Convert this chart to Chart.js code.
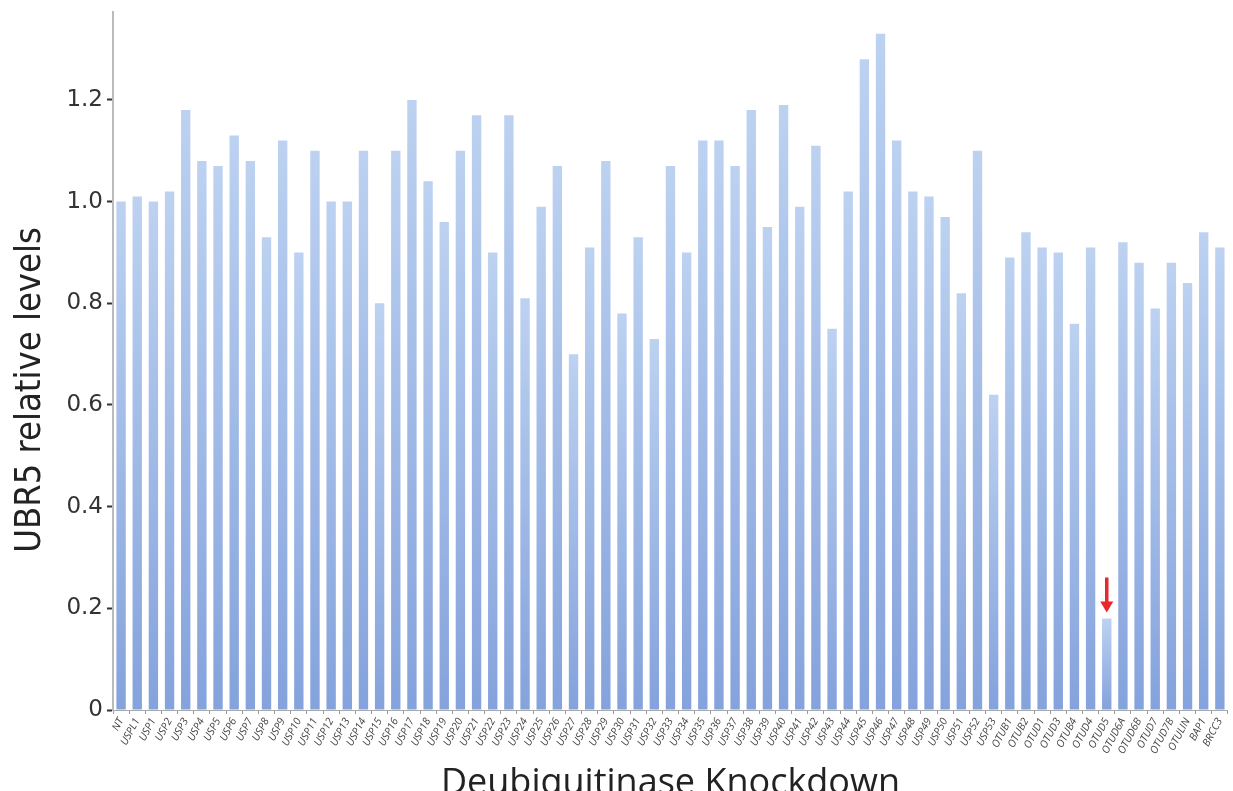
<!DOCTYPE html>
<html>
<head>
<meta charset="utf-8">
<script src="https://cdn.jsdelivr.net/npm/chart.js@4.4.1/dist/chart.umd.min.js"></script>
<style>
html,body{margin:0;padding:0;background:#fff;}
#wrap{position:relative;width:1233px;height:791px;}
</style>
</head>
<body>
<div id="wrap"><canvas id="c" width="1233" height="791"></canvas></div>
<script>
const categories = ["NT","USPL1","USP1","USP2","USP3","USP4","USP5","USP6","USP7","USP8","USP9","USP10","USP11","USP12","USP13","USP14","USP15","USP16","USP17","USP18","USP19","USP20","USP21","USP22","USP23","USP24","USP25","USP26","USP27","USP28","USP29","USP30","USP31","USP32","USP33","USP34","USP35","USP36","USP37","USP38","USP39","USP40","USP41","USP42","USP43","USP44","USP45","USP46","USP47","USP48","USP49","USP50","USP51","USP52","USP53","OTUB1","OTUB2","OTUD1","OTUD3","OTUB4","OTUD4","OTUD5","OTUD6A","OTUD6B","OTUD7","OTUD7B","OTULIN","BAP1","BRCC3"];
const ubr5Levels = [1.00,1.01,1.00,1.02,1.18,1.08,1.07,1.13,1.08,0.93,1.12,0.90,1.10,1.00,1.00,1.10,0.80,1.10,1.20,1.04,0.96,1.10,1.17,0.90,1.17,0.81,0.99,1.07,0.70,0.91,1.08,0.78,0.93,0.73,1.07,0.90,1.12,1.12,1.07,1.18,0.95,1.19,0.99,1.11,0.75,1.02,1.28,1.33,1.12,1.02,1.01,0.97,0.82,1.10,0.62,0.89,0.94,0.91,0.90,0.76,0.91,0.18,0.92,0.88,0.79,0.88,0.84,0.94,0.91];
const yTickValues = [0,0.2,0.4,0.6,0.8,1.0,1.2];
const yTickLabels = ["0","0.2","0.4","0.6","0.8","1.0","1.2"];
const highlighted = "OTUD5";
const yTitle = "UBR5 relative levels";
const xTitle = "Deubiquitinase Knockdown";

const titlesPlugin = {
  id:'titles',
  afterDraw(chart){
    const c = chart.ctx; const ca = chart.chartArea;
    c.save();
    c.fillStyle = '#222';
    c.font = "36px 'Liberation Sans Narrow', 'DejaVu Sans Condensed', sans-serif";
    c.textAlign = 'center'; c.textBaseline = 'middle';
    c.translate(31, 390); c.rotate(-Math.PI/2);
    c.fillText(yTitle, 0, 0);
    c.restore();
    c.save();
    c.fillStyle = '#222';
    c.font = "36px 'Open Sans', sans-serif";
    c.textAlign = 'center'; c.textBaseline = 'alphabetic';
    c.fillText(xTitle, (ca.left+ca.right)/2, 794);
    c.restore();
    const idx = categories.indexOf(highlighted);
    const x = chart.scales.x.getPixelForValue(idx);
    const yTop = chart.scales.y.getPixelForValue(ubr5Levels[idx]);
    c.save();
    c.fillStyle = '#e8262b'; c.strokeStyle = '#e8262b';
    c.lineWidth = 3.5;
    c.beginPath(); c.moveTo(x, yTop-41); c.lineTo(x, yTop-15); c.stroke();
    c.beginPath(); c.moveTo(x-6.5, yTop-17); c.lineTo(x+6.5, yTop-17); c.lineTo(x, yTop-6); c.closePath(); c.fill();
    c.restore();
  }
};

new Chart(document.getElementById('c'), {
  type:'bar',
  data:{labels:categories, datasets:[{
    data:ubr5Levels,
    backgroundColor: ctx => {
      const chart = ctx.chart;
      if (!chart.chartArea || ctx.type !== 'data') return '#9db7e6';
      const ys = chart.scales.y;
      const t = ys.getPixelForValue(ctx.parsed.y), b = ys.getPixelForValue(0);
      const g = chart.ctx.createLinearGradient(0, t, 0, b);
      g.addColorStop(0, '#bdd2f1');
      g.addColorStop(1, '#84a2dc');
      return g;
    },
    borderWidth:0,
    barPercentage:0.58,
    categoryPercentage:1.0
  }]},
  options:{
    responsive:false, animation:false,
    layout:{padding:{top:12,right:2,left:0,bottom:0}},
    plugins:{legend:{display:false},tooltip:{enabled:false}},
    scales:{
      x:{
        afterFit: s => { s.height = 81; },
        grid:{display:true, drawOnChartArea:false, offset:true, tickLength:4, color:'#999', tickWidth:1},
        border:{color:'#aaa', width:1},
        ticks:{autoSkip:false, minRotation:62, maxRotation:62, padding:2, color:'#444',
          font:{family:"'Open Sans', sans-serif", size:10.5, style:'italic'}}
      },
      y:{
        min:0, max:1.373,
        afterFit: s => { s.width = 113; s.paddingTop = 0; s.paddingBottom = 0; },
        afterBuildTicks: s => { s.ticks = yTickValues.map(v => ({value:v})); },
        grid:{display:true, drawOnChartArea:false, tickLength:6, color:'#333', tickWidth:2},
        border:{color:'#bbb', width:2},
        ticks:{padding:4, color:'#333', font:{family:"'DejaVu Sans', sans-serif", size:23},
          callback:(v) => { const i = yTickValues.findIndex(t => Math.abs(t - v) < 1e-6); return i >= 0 ? yTickLabels[i] : ''; }}
      }
    }
  },
  plugins:[titlesPlugin]
});
</script>
</body>
</html>
